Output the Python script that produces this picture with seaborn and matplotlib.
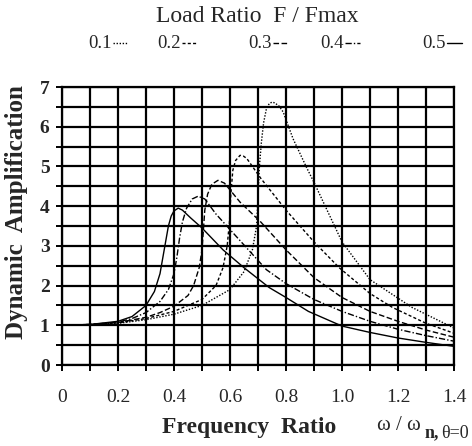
import matplotlib
matplotlib.use("Agg")
import matplotlib.pyplot as plt
from matplotlib.lines import Line2D
from matplotlib.ticker import MultipleLocator
import pandas as pd
import seaborn as sns

# Frequency ratio / dynamic amplification for each load ratio F/Fmax
load_ratios = ["0.1", "0.2", "0.3", "0.4", "0.5"]

freq_01 = [0, 0.1, 0.2, 0.3, 0.4, 0.5, 0.6, 0.65, 0.68, 0.695, 0.70, 0.705, 0.712,
           0.72, 0.73, 0.74, 0.75, 0.76, 0.775, 0.79, 0.825, 0.875, 0.9, 1.0,
           1.1, 1.25, 1.4]
amp_01 = [1.0, 1.02, 1.05, 1.14, 1.28, 1.5, 1.9, 2.35, 2.9, 3.5, 4.2, 5.0, 5.6,
          6.1, 6.45, 6.58, 6.62, 6.6, 6.52, 6.37, 5.7, 4.95, 4.6, 3.1,
          2.15, 1.45, 0.93]

freq_02 = [0, 0.1, 0.2, 0.3, 0.4, 0.5, 0.55, 0.575, 0.59, 0.598, 0.603, 0.61, 0.62,
           0.636, 0.648, 0.66, 0.71, 0.8, 0.9, 0.99, 1.1, 1.18, 1.3, 1.4]
amp_02 = [1.0, 1.02, 1.06, 1.17, 1.35, 1.65, 2.0, 2.45, 3.0, 3.6, 4.3, 4.9, 5.15,
          5.28, 5.26, 5.2, 4.7, 3.9, 3.1, 2.45, 1.8, 1.45, 1.05, 0.8]

freq_03 = [0, 0.1, 0.2, 0.3, 0.35, 0.4, 0.45, 0.47, 0.49, 0.50, 0.505, 0.51, 0.52,
           0.535, 0.557, 0.58, 0.636, 0.71, 0.8, 0.9, 1.0, 1.1, 1.2, 1.3, 1.4]
amp_03 = [1.0, 1.02, 1.07, 1.2, 1.32, 1.48, 1.75, 2.0, 2.45, 2.9, 3.4, 3.9, 4.3,
          4.55, 4.65, 4.58, 4.1, 3.6, 2.9, 2.2, 1.7, 1.35, 1.1, 0.88, 0.7]

freq_04 = [0, 0.1, 0.2, 0.25, 0.3, 0.35, 0.38, 0.40, 0.41, 0.42, 0.43, 0.445, 0.465,
           0.486, 0.51, 0.55, 0.64, 0.73, 0.8, 0.9, 1.0, 1.1, 1.2, 1.3, 1.4]
amp_04 = [1.0, 1.02, 1.08, 1.17, 1.32, 1.6, 1.9, 2.3, 2.7, 3.2, 3.6, 3.95, 4.18,
          4.25, 4.18, 3.8, 3.1, 2.4, 2.05, 1.65, 1.35, 1.1, 0.9, 0.74, 0.6]

freq_05 = [0, 0.1, 0.2, 0.25, 0.3, 0.33, 0.35, 0.36, 0.37, 0.38, 0.39, 0.40, 0.415,
           0.43, 0.46, 0.5, 0.575, 0.65, 0.74, 0.8, 0.88, 1.0, 1.1, 1.2, 1.3, 1.4]
amp_05 = [1.0, 1.02, 1.1, 1.22, 1.5, 1.85, 2.3, 2.7, 3.1, 3.5, 3.75, 3.88, 3.95,
          3.9, 3.7, 3.45, 2.9, 2.45, 1.95, 1.7, 1.35, 0.98, 0.82, 0.68, 0.57, 0.47]

x_tick_labels = ["0", "0.2", "0.4", "0.6", "0.8", "1.0", "1.2", "1.4"]
y_tick_labels = ["0", "1", "2", "3", "4", "5", "6", "7"]

series = [(freq_01, amp_01), (freq_02, amp_02), (freq_03, amp_03),
          (freq_04, amp_04), (freq_05, amp_05)]
df = pd.concat(
    [pd.DataFrame({"freq": f, "amp": a, "load": lr})
     for lr, (f, a) in zip(load_ratios, series)],
    ignore_index=True,
)

dash_styles = {
    "0.1": (1.0, 1.2),
    "0.2": (2.2, 1.6),
    "0.3": (4.0, 1.8),
    "0.4": (4.5, 1.5, 1.0, 1.5),
    "0.5": "",
}

sns.set_style("ticks")
plt.rcParams["font.family"] = ["Liberation Serif", "DejaVu Serif"]

W, H = 472, 446
fig = plt.figure(figsize=(W / 100, H / 100), dpi=100)
ax = fig.add_axes([62 / W, 81 / H, 392 / W, 278 / H])

sns.lineplot(
    data=df, x="freq", y="amp", hue="load", style="load",
    hue_order=load_ratios, style_order=load_ratios,
    palette={lr: "black" for lr in load_ratios}, dashes=dash_styles,
    sort=False, estimator=None, legend=False, linewidth=1.0, ax=ax,
)

ax.set_xlim(0, 1.4)
ax.set_ylim(0, 7)
ax.xaxis.set_minor_locator(MultipleLocator(0.1))
ax.yaxis.set_minor_locator(MultipleLocator(0.5))
ax.set_xticks([i * 0.2 for i in range(len(x_tick_labels))])
ax.set_xticklabels(x_tick_labels)
ax.set_yticks(range(len(y_tick_labels)))
ax.set_yticklabels(y_tick_labels)

ax.grid(True, which="both", color="black", linewidth=1.6)
for side in ax.spines.values():
    side.set_linewidth(1.6)
    side.set_color("black")
ax.tick_params(which="both", direction="out", length=4, width=1.4, color="black")
ax.tick_params(axis="x", which="major", pad=13, labelsize=14)
ax.tick_params(axis="y", which="major", pad=5, labelsize=14)
for lab in ax.get_yticklabels():
    lab.set_fontweight("bold")
ax.set_xlabel("")
ax.set_ylabel("")

# axis titles
fig.text(17 / W, 1 - 212 / H, "Dynamic  Amplification", rotation=90,
         ha="center", va="center", fontsize=18, fontweight="bold")
fig.text(249 / W, 1 - 427 / H, "Frequency  Ratio", ha="center", va="center",
         fontsize=17, fontweight="bold")
fig.text(377 / W, 1 - 425 / H, "ω / ω", ha="left", va="center", fontsize=15)
fig.text(425 / W, 1 - 433 / H, "n,", ha="left", va="center", fontsize=13,
         fontweight="bold")
fig.text(441 / W, 1 - 433 / H, "θ=0", ha="left", va="center", fontsize=13)

# load ratio key along the top
fig.text(257 / W, 1 - 16 / H, "Load Ratio  F / Fmax", ha="center", va="center",
         fontsize=17)
key_x = [88, 157, 248, 320, 422]
for lr, kx in zip(load_ratios, key_x):
    fig.text(kx / W, 1 - 43 / H, lr, ha="left", va="center", fontsize=13.5)
    ls = (0, dash_styles[lr]) if dash_styles[lr] else "-"
    fig.add_artist(Line2D([(kx + 25) / W, (kx + 40) / W],
                          [1 - 43 / H, 1 - 43 / H], color="black",
                          linewidth=1.0, linestyle=ls,
                          transform=fig.transFigure))

fig.savefig("out.png", dpi=100)
